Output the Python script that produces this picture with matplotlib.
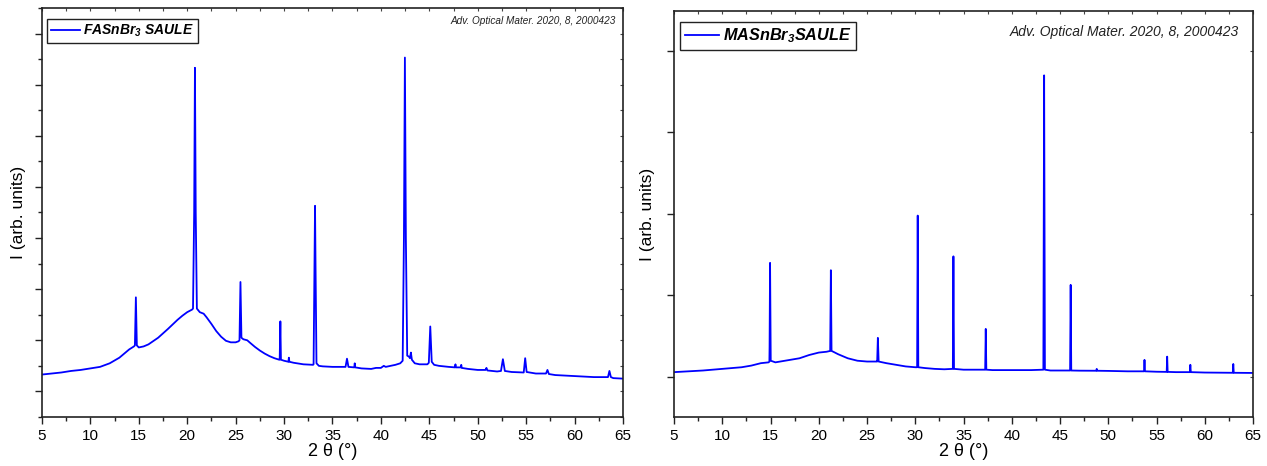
import matplotlib
matplotlib.use("Agg")
import matplotlib.pyplot as plt
from matplotlib.ticker import MultipleLocator, NullFormatter, NullLocator

plt.rcParams['font.family'] = ['Liberation Sans', 'DejaVu Sans']
plt.rcParams['mathtext.fontset'] = 'custom'
plt.rcParams['mathtext.it'] = 'Liberation Sans:italic:bold'
plt.rcParams['mathtext.rm'] = 'Liberation Sans:italic:bold'
plt.rcParams['mathtext.bf'] = 'Liberation Sans:italic:bold'

# ---- FASnBr3 diffraction pattern (2-theta in degrees, intensity in arb. units)
fa_two_theta = [
    5.0, 6.0, 7.0, 8.0, 9.0, 10.0, 11.0, 12.0, 13.0, 13.5, 14.0, 14.5,
    14.6, 14.7, 14.8, 15.0, 15.5, 16.0, 17.0, 18.0, 19.0, 19.5, 20.0, 20.5,
    20.6, 20.72, 20.8, 20.88, 21.0, 21.3, 21.7, 22.0, 22.5, 23.0, 23.5, 24.0,
    24.5, 25.0, 25.3, 25.4, 25.5, 25.6, 25.8, 26.2, 26.5, 27.0, 27.5, 28.0,
    28.5, 29.0, 29.5, 29.55, 29.62, 29.68, 30.0, 30.45, 30.5, 30.55, 31.0, 32.0,
    33.0, 33.05, 33.15, 33.2, 33.25, 33.35, 33.6, 34.0, 35.0, 36.0, 36.35, 36.5,
    36.65, 37.25, 37.3, 37.35, 38.0, 39.0, 39.5, 40.0, 40.3, 40.5, 41.0, 41.5,
    42.0, 42.25, 42.38, 42.48, 42.58, 42.72, 42.9, 43.0, 43.1, 43.2, 43.5, 44.0,
    44.8, 44.95, 45.1, 45.25, 45.5, 46.0, 47.0, 47.65, 47.7, 47.75, 48.25, 48.3,
    48.35, 49.0, 50.0, 50.8, 50.9, 51.0, 52.0, 52.4, 52.6, 52.8, 53.5, 54.75,
    54.9, 55.05, 56.0, 57.05, 57.2, 57.35, 58.0, 60.0, 62.0, 63.45, 63.6, 63.75,
    64.0, 65.0,
]
fa_intensity = [
    0.33, 0.35, 0.37, 0.40, 0.42, 0.45, 0.48, 0.55, 0.66, 0.74, 0.82, 0.88,
    0.90, 1.84, 0.90, 0.86, 0.88, 0.92, 1.05, 1.22, 1.40, 1.48, 1.55, 1.60,
    1.62, 3.50, 6.33, 3.50, 1.62, 1.55, 1.52, 1.45, 1.32, 1.18, 1.07, 0.99,
    0.96, 0.96, 0.98, 1.00, 2.14, 1.05, 1.02, 1.00, 0.95, 0.87, 0.80, 0.74,
    0.69, 0.65, 0.62, 0.62, 1.37, 0.62, 0.60, 0.58, 0.66, 0.58, 0.56, 0.53,
    0.52, 0.53, 2.50, 3.63, 2.50, 0.55, 0.50, 0.49, 0.48, 0.48, 0.48, 0.64,
    0.48, 0.47, 0.55, 0.47, 0.45, 0.44, 0.46, 0.46, 0.50, 0.48, 0.50, 0.52,
    0.55, 0.60, 3.00, 6.53, 3.00, 0.70, 0.68, 0.65, 0.76, 0.62, 0.55, 0.53,
    0.53, 0.56, 1.27, 0.58, 0.52, 0.50, 0.48, 0.47, 0.53, 0.47, 0.47, 0.52,
    0.46, 0.44, 0.42, 0.42, 0.46, 0.41, 0.39, 0.40, 0.63, 0.40, 0.38, 0.37,
    0.65, 0.38, 0.35, 0.35, 0.42, 0.34, 0.32, 0.30, 0.28, 0.28, 0.40, 0.28,
    0.26, 0.25,
]

# ---- MASnBr3 diffraction pattern
ma_two_theta = [
    5.0, 8.0, 10.0, 12.0, 13.0, 14.0, 14.8, 14.88, 14.9, 14.95, 15.02, 15.5,
    16.0, 17.0, 18.0, 19.0, 20.0, 20.8, 21.18, 21.25, 21.32, 21.5, 22.0, 23.0,
    24.0, 25.0, 26.0, 26.05, 26.12, 26.2, 27.0, 28.0, 29.0, 30.0, 30.19, 30.25,
    30.31, 31.0, 32.0, 33.0, 33.89, 33.95, 34.01, 35.0, 36.0, 37.24, 37.3, 37.36,
    38.0, 40.0, 42.0, 43.27, 43.35, 43.43, 44.0, 45.0, 46.04, 46.1, 46.16, 47.0,
    48.75, 48.8, 48.85, 50.0, 52.0, 53.7, 53.75, 53.8, 55.0, 56.05, 56.1, 56.15,
    57.0, 58.45, 58.5, 58.55, 60.0, 62.9, 62.95, 63.0, 65.0,
]
ma_intensity = [
    0.06, 0.08, 0.10, 0.12, 0.14, 0.17, 0.18, 0.19, 0.37, 1.40, 0.20, 0.18,
    0.19, 0.21, 0.23, 0.27, 0.30, 0.31, 0.32, 1.31, 0.32, 0.31, 0.28, 0.23,
    0.20, 0.19, 0.19, 0.19, 0.48, 0.19, 0.17, 0.15, 0.13, 0.12, 0.12, 1.98,
    0.12, 0.11, 0.10, 0.095, 0.10, 1.48, 0.10, 0.09, 0.09, 0.09, 0.59, 0.09,
    0.085, 0.085, 0.085, 0.09, 3.70, 0.09, 0.08, 0.08, 0.08, 1.13, 0.08, 0.078,
    0.077, 0.10, 0.077, 0.075, 0.07, 0.07, 0.21, 0.07, 0.065, 0.063, 0.25, 0.063,
    0.06, 0.06, 0.15, 0.06, 0.055, 0.052, 0.16, 0.052, 0.05,
]

x_ticks = [5, 10, 15, 20, 25, 30, 35, 40, 45, 50, 55, 60, 65]
citation = "Adv. Optical Mater. 2020, 8, 2000423"
fa_label = "FASnBr$_3$ SAULE"
ma_label = "MASnBr$_3$SAULE"

BLUE = "#0000ff"

fig = plt.figure(figsize=(12.67, 4.66), dpi=100)
ax1 = fig.add_axes([0.0331, 0.1052, 0.4586, 0.8777])
ax2 = fig.add_axes([0.5320, 0.1052, 0.4570, 0.8713])


def style_axes(ax, y_lim, y_major, y_minor, ylabel_pad):
    ax.set_xlim(5, 65)
    ax.set_ylim(*y_lim)
    ax.set_xticks(x_ticks)
    ax.xaxis.set_minor_locator(MultipleLocator(2.5))
    ax.yaxis.set_major_locator(MultipleLocator(y_major))
    ax.yaxis.set_minor_locator(MultipleLocator(y_minor) if y_minor else NullLocator())
    ax.yaxis.set_major_formatter(NullFormatter())
    ax.tick_params(axis='both', which='major', direction='out', length=5,
                   width=1.0, labelsize=11, colors='#222222', labelcolor='black')
    ax.tick_params(axis='both', which='minor', direction='out', length=3,
                   width=1.0, colors='#222222')
    ax.tick_params(axis='x', pad=4)
    for s in ax.spines.values():
        s.set_linewidth(1.2)
        s.set_color('#222222')
    # inward ticks along the top and right frame
    top = ax.secondary_xaxis('top')
    top.set_xticks(x_ticks)
    top.xaxis.set_minor_locator(MultipleLocator(2.5))
    top.tick_params(which='both', direction='in', length=2.5, width=0.8,
                    labeltop=False, colors='#444444')
    top.spines['top'].set_visible(False)
    right = ax.secondary_yaxis('right')
    right.yaxis.set_major_locator(MultipleLocator(y_major))
    right.yaxis.set_minor_locator(MultipleLocator(y_minor) if y_minor else NullLocator())
    right.tick_params(which='both', direction='in', length=2.5, width=0.8,
                      labelright=False, colors='#444444')
    right.spines['right'].set_visible(False)
    ax.set_xlabel("2 θ (°)", fontsize=13, labelpad=0)
    ax.set_ylabel("I (arb. units)", fontsize=12.5, labelpad=ylabel_pad)


legend_common = dict(loc='upper left', borderaxespad=0, fancybox=False,
                     framealpha=1, edgecolor='#222222', handlelength=2.1,
                     handletextpad=0.25, borderpad=0.3)

# left panel
ax1.plot(fa_two_theta, fa_intensity, color=BLUE, lw=1.3, label=fa_label)
style_axes(ax1, (-0.5, 7.5), 1.0, 0.5, 3)
leg1 = ax1.legend(bbox_to_anchor=(0.008, 0.974),
                  prop={'size': 10, 'weight': 'bold', 'style': 'italic'},
                  **legend_common)
leg1.get_frame().set_linewidth(1.0)
ax1.text(0.988, 0.968, citation, transform=ax1.transAxes, ha='right',
         va='center', fontsize=7.2, style='italic', color='#222222')

# right panel
ax2.plot(ma_two_theta, ma_intensity, color=BLUE, lw=1.3, label=ma_label)
style_axes(ax2, (-0.49, 4.49), 1.0, None, 5)
leg2 = ax2.legend(bbox_to_anchor=(0.010, 0.973),
                  prop={'size': 11.7, 'weight': 'bold', 'style': 'italic'},
                  **legend_common)
leg2.get_frame().set_linewidth(1.0)
ax2.text(0.976, 0.948, citation, transform=ax2.transAxes, ha='right',
         va='center', fontsize=10, style='italic', color='#222222')

fig.savefig("out.png", dpi=100)
